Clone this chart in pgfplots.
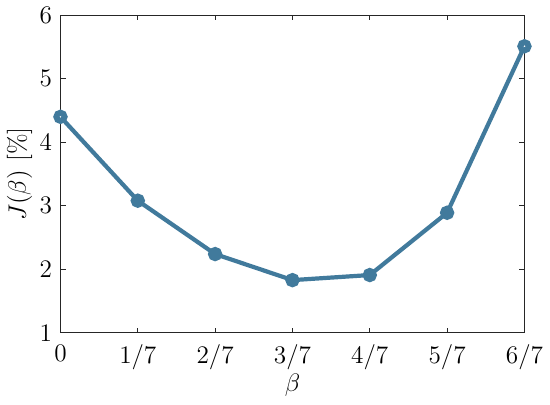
\documentclass[border=0pt]{standalone}
\usepackage{pgfplots}
\pgfplotsset{compat=1.18}
\definecolor{lineblue}{HTML}{417A9C}
\definecolor{axgray}{HTML}{262626}
\begin{document}
\begin{tikzpicture}
\begin{axis}[
  scale only axis,
  width=220.5pt, height=151pt,
  xmin=0, xmax=6, ymin=1, ymax=6,
  xtick={0,1,2,3,4,5,6},
  xticklabels={$0$,$1/7$,$2/7$,$3/7$,$4/7$,$5/7$,$6/7$},
  ytick={1,2,3,4,5,6},
  tick align=inside,
  major tick length=2.5pt,
  axis line style={axgray, line width=0.5pt},
  tick style={axgray, line width=0.5pt},
  every tick label/.style={font=\fontsize{12}{14}\selectfont, text=black},
  xticklabel style={yshift=-2.2pt},
  yticklabel style={xshift=-0.5pt},
  xlabel={$\beta$},
  ylabel={$J(\beta)\ [\%]$},
  label style={font=\fontsize{12.5}{14}\selectfont},
  xlabel style={at={(axis description cs:0.5,-0.166)}, anchor=center},
  ylabel style={at={(axis description cs:-0.088,0.5)}, anchor=center},
  clip=false,
]
\addplot[lineblue, line width=2pt, mark=*, mark size=2.4pt, mark options={solid, fill=lineblue}]
  coordinates {(0,4.40) (1,3.08) (2,2.24) (3,1.83) (4,1.91) (5,2.89) (6,5.51)};
\addplot[lineblue, only marks, mark=*, mark size=0.8pt, mark options={draw=none, fill=white}]
  coordinates {(0,4.40) (6,5.51)};
\path (rel axis cs:0,0) ++(-28.4pt,-34pt) (rel axis cs:1,1) ++(11.4pt,7pt);
\end{axis}
\end{tikzpicture}
\end{document}
